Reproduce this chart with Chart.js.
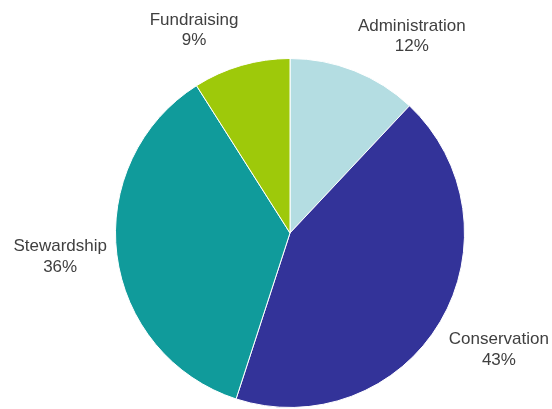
<!DOCTYPE html>
<html lang="en">
<head>
    <meta charset="UTF-8">
    <title>Expenses Pie</title>
    <script src="https://cdn.jsdelivr.net/npm/chart.js"></script>
    <style>
        html, body {
            margin: 0;
            padding: 0;
            background: #ffffff;
        }
        #wrap {
            width: 552px;
            height: 409px;
        }
    </style>
</head>
<body>
    <div id="wrap">
        <canvas id="pie"></canvas>
    </div>

    <script>
        const categories = ['Administration', 'Conservation', 'Stewardship', 'Fundraising'];
        const shares = [12, 43, 36, 9];
        const sliceColors = ['#b4dde2', '#333399', '#109b9b', '#9ec90a'];

        // draws "Name / NN%" just outside each slice, anchored on the mid angle
        const outsideLabels = {
            id: 'outsideLabels',
            afterDatasetsDraw(chart) {
                const ctx = chart.ctx;
                const meta = chart.getDatasetMeta(0);
                const lineH = 20.5;
                ctx.save();
                ctx.font = '17px "Liberation Sans", Arial, sans-serif';
                ctx.fillStyle = '#404040';
                ctx.textAlign = 'center';
                ctx.textBaseline = 'middle';
                meta.data.forEach((arc, i) => {
                    const p = arc.getProps(['x', 'y', 'startAngle', 'endAngle', 'outerRadius'], true);
                    const mid = (p.startAngle + p.endAngle) / 2;
                    const cx = Math.cos(mid), sy = Math.sin(mid);
                    const ax = p.x + cx * (p.outerRadius + 10);
                    const ay = p.y + sy * (p.outerRadius + 15);
                    const lines = [categories[i], shares[i] + '%'];
                    const w = Math.max(...lines.map(t => ctx.measureText(t).width));
                    const h = lineH * lines.length;
                    let left = cx > 0.1 ? ax : (cx < -0.1 ? ax - w : ax - w / 2);
                    let top = sy < -0.3 ? ay - h : (sy > 0.3 ? ay : ay - h / 2);
                    lines.forEach((t, k) => {
                        ctx.fillText(t, left + w / 2, top + lineH * (k + 0.5));
                    });
                });
                ctx.restore();
            }
        };

        new Chart(document.getElementById('pie'), {
            type: 'pie',
            data: {
                labels: categories,
                datasets: [{
                    data: shares,
                    backgroundColor: sliceColors,
                    borderColor: '#ffffff',
                    borderWidth: 1
                }]
            },
            options: {
                responsive: true,
                maintainAspectRatio: false,
                animation: false,
                layout: {
                    padding: { left: 115, right: 87, top: 58, bottom: 1 }
                },
                plugins: {
                    legend: { display: false },
                    tooltip: { enabled: false }
                }
            },
            plugins: [outsideLabels]
        });
    </script>
</body>
</html>
